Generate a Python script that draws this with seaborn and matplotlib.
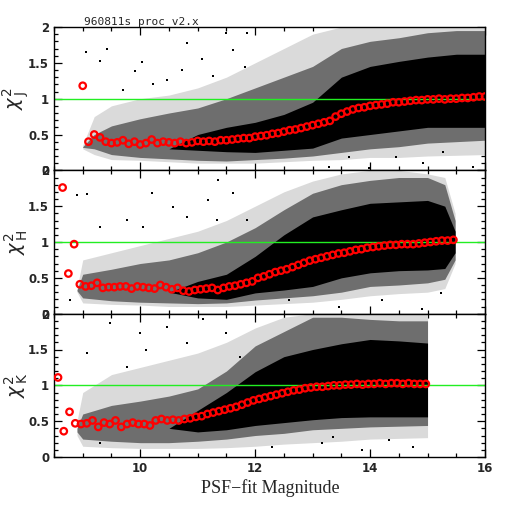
import numpy as np
import pandas as pd
import matplotlib
matplotlib.use("Agg")
import matplotlib.pyplot as plt
from matplotlib.ticker import MultipleLocator, FuncFormatter
import seaborn as sns

sns.set_style("white")

# ---------------- binned chi^2 medians (red circles) ----------------
j_mag = [9.0, 9.1, 9.2, 9.3, 9.4, 9.5, 9.6, 9.7, 9.8, 9.9,
         10.0, 10.1, 10.2, 10.3, 10.4, 10.5, 10.6, 10.7, 10.8, 10.9,
         11.0, 11.1, 11.2, 11.3, 11.4, 11.5, 11.6, 11.7, 11.8, 11.9,
         12.0, 12.1, 12.2, 12.3, 12.4, 12.5, 12.6, 12.7, 12.8, 12.9,
         13.0, 13.1, 13.2, 13.3, 13.4, 13.5, 13.6, 13.7, 13.8, 13.9,
         14.0, 14.1, 14.2, 14.3, 14.4, 14.5, 14.6, 14.7, 14.8, 14.9,
         15.0, 15.1, 15.2, 15.3, 15.4, 15.5, 15.6, 15.7, 15.8, 15.9, 16.0]
j_chi = [1.18, 0.40, 0.50, 0.46, 0.40, 0.38, 0.39, 0.42, 0.37, 0.40,
         0.36, 0.38, 0.43, 0.38, 0.40, 0.39, 0.38, 0.40, 0.38, 0.39,
         0.41, 0.40, 0.41, 0.40, 0.42, 0.42, 0.43, 0.44, 0.45, 0.45,
         0.47, 0.48, 0.49, 0.51, 0.52, 0.54, 0.56, 0.57, 0.59, 0.61,
         0.63, 0.65, 0.67, 0.69, 0.75, 0.79, 0.82, 0.85, 0.87, 0.88,
         0.90, 0.91, 0.92, 0.93, 0.95, 0.95, 0.96, 0.97, 0.98, 0.98,
         0.99, 0.99, 1.00, 0.99, 1.00, 1.00, 1.01, 1.01, 1.02, 1.03, 1.03]

h_mag = [8.65, 8.75, 8.85, 8.95, 9.05, 9.15, 9.25, 9.35, 9.45, 9.55,
         9.65, 9.75, 9.85, 9.95, 10.05, 10.15, 10.25, 10.35, 10.45, 10.55,
         10.65, 10.75, 10.85, 10.95, 11.05, 11.15, 11.25, 11.35, 11.45, 11.55,
         11.65, 11.75, 11.85, 11.95, 12.05, 12.15, 12.25, 12.35, 12.45, 12.55,
         12.65, 12.75, 12.85, 12.95, 13.05, 13.15, 13.25, 13.35, 13.45, 13.55,
         13.65, 13.75, 13.85, 13.95, 14.05, 14.15, 14.25, 14.35, 14.45, 14.55,
         14.65, 14.75, 14.85, 14.95, 15.05, 15.15, 15.25, 15.35, 15.45]
h_chi = [1.76, 0.56, 0.97, 0.41, 0.38, 0.39, 0.43, 0.36, 0.37, 0.37,
         0.38, 0.38, 0.35, 0.38, 0.37, 0.36, 0.35, 0.40, 0.37, 0.34,
         0.36, 0.32, 0.31, 0.33, 0.34, 0.35, 0.36, 0.33, 0.36, 0.38,
         0.39, 0.41, 0.43, 0.45, 0.50, 0.52, 0.55, 0.58, 0.60, 0.62,
         0.65, 0.68, 0.71, 0.74, 0.76, 0.78, 0.80, 0.82, 0.84, 0.85,
         0.87, 0.89, 0.90, 0.92, 0.93, 0.94, 0.95, 0.96, 0.96, 0.97,
         0.97, 0.97, 0.98, 0.99, 1.00, 1.01, 1.02, 1.02, 1.03]

k_mag = [8.57, 8.67, 8.77, 8.87, 8.97, 9.07, 9.17, 9.27, 9.37, 9.47,
         9.57, 9.67, 9.77, 9.87, 9.97, 10.07, 10.17, 10.27, 10.37, 10.47,
         10.57, 10.67, 10.77, 10.87, 10.97, 11.07, 11.17, 11.27, 11.37, 11.47,
         11.57, 11.67, 11.77, 11.87, 11.97, 12.07, 12.17, 12.27, 12.37, 12.47,
         12.57, 12.67, 12.77, 12.87, 12.97, 13.07, 13.17, 13.27, 13.37, 13.47,
         13.57, 13.67, 13.77, 13.87, 13.97, 14.07, 14.17, 14.27, 14.37, 14.47,
         14.57, 14.67, 14.77, 14.87, 14.97]
k_chi = [1.11, 0.36, 0.63, 0.47, 0.46, 0.47, 0.51, 0.42, 0.48, 0.46,
         0.51, 0.42, 0.46, 0.48, 0.46, 0.46, 0.44, 0.51, 0.53, 0.51,
         0.52, 0.51, 0.53, 0.54, 0.56, 0.57, 0.60, 0.62, 0.64, 0.66,
         0.68, 0.70, 0.73, 0.76, 0.79, 0.81, 0.83, 0.85, 0.87, 0.89,
         0.91, 0.93, 0.94, 0.96, 0.97, 0.98, 0.98, 0.99, 1.00, 1.00,
         1.01, 1.01, 1.02, 1.01, 1.02, 1.02, 1.03, 1.02, 1.03, 1.03,
         1.02, 1.03, 1.02, 1.02, 1.02]

# ---------------- envelopes of the star cloud ----------------
j_grid = [9.0, 9.2, 9.5, 10.0, 10.5, 11.0, 11.5, 12.0, 12.5, 13.0, 13.5, 14.0, 14.5, 15.0, 15.5, 16.0]
j_out_lo = [0.30, 0.22, 0.15, 0.14, 0.12, 0.10, 0.10, 0.10, 0.12, 0.14, 0.15, 0.18, 0.18, 0.20, 0.21, 0.22]
j_out_hi = [0.35, 0.75, 0.90, 1.00, 1.05, 1.15, 1.30, 1.50, 1.70, 1.90, 2.00, 2.00, 2.00, 2.00, 2.00, 2.00]
j_mid_lo = [0.32, 0.30, 0.22, 0.18, 0.16, 0.14, 0.13, 0.15, 0.17, 0.20, 0.25, 0.30, 0.33, 0.38, 0.40, 0.42]
j_mid_hi = [0.33, 0.50, 0.62, 0.72, 0.80, 0.87, 1.00, 1.15, 1.30, 1.45, 1.70, 1.80, 1.85, 1.92, 1.95, 1.95]
j_core_lo = [0.3, 0.3, 0.3, 0.3, 0.30, 0.28, 0.26, 0.25, 0.28, 0.31, 0.45, 0.50, 0.55, 0.60, 0.60, 0.60]
j_core_hi = [0.3, 0.3, 0.3, 0.3, 0.30, 0.50, 0.60, 0.67, 0.78, 0.95, 1.30, 1.45, 1.52, 1.58, 1.62, 1.62]

h_grid = [8.9, 9.0, 9.5, 10.0, 10.5, 11.0, 11.5, 12.0, 12.5, 13.0, 13.5, 14.0, 14.5, 15.0, 15.3, 15.48]
h_out_lo = [0.30, 0.15, 0.13, 0.12, 0.10, 0.10, 0.10, 0.12, 0.14, 0.16, 0.20, 0.25, 0.28, 0.30, 0.35, 0.70]
h_out_hi = [0.35, 0.75, 0.85, 0.95, 1.05, 1.15, 1.30, 1.50, 1.70, 1.85, 1.95, 2.00, 2.00, 1.95, 1.90, 1.40]
h_mid_lo = [0.32, 0.22, 0.18, 0.16, 0.15, 0.14, 0.15, 0.19, 0.22, 0.25, 0.30, 0.38, 0.40, 0.43, 0.48, 0.75]
h_mid_hi = [0.33, 0.55, 0.62, 0.70, 0.75, 0.85, 1.00, 1.20, 1.45, 1.68, 1.80, 1.86, 1.90, 1.90, 1.80, 1.30]
h_core_lo = [0.3, 0.3, 0.3, 0.3, 0.30, 0.22, 0.20, 0.29, 0.33, 0.38, 0.50, 0.57, 0.60, 0.61, 0.63, 0.85]
h_core_hi = [0.3, 0.3, 0.3, 0.3, 0.30, 0.45, 0.55, 0.80, 1.10, 1.35, 1.45, 1.54, 1.56, 1.58, 1.50, 1.15]

k_grid = [8.9, 9.0, 9.5, 10.0, 10.5, 11.0, 11.5, 12.0, 12.5, 13.0, 13.5, 14.0, 14.5, 15.0]
k_out_lo = [0.30, 0.15, 0.13, 0.12, 0.12, 0.12, 0.13, 0.15, 0.18, 0.20, 0.22, 0.25, 0.26, 0.27]
k_out_hi = [0.50, 0.90, 1.15, 1.25, 1.35, 1.45, 1.60, 1.80, 1.95, 2.00, 2.00, 2.00, 2.00, 2.00]
k_mid_lo = [0.35, 0.25, 0.22, 0.20, 0.20, 0.22, 0.25, 0.30, 0.33, 0.38, 0.40, 0.42, 0.43, 0.44]
k_mid_hi = [0.40, 0.60, 0.72, 0.78, 0.85, 0.95, 1.20, 1.55, 1.75, 1.95, 1.95, 1.92, 1.90, 1.90]
k_core_lo = [0.4, 0.4, 0.4, 0.4, 0.40, 0.35, 0.38, 0.44, 0.48, 0.52, 0.55, 0.56, 0.56, 0.56]
k_core_hi = [0.4, 0.4, 0.4, 0.4, 0.40, 0.65, 0.90, 1.19, 1.40, 1.50, 1.58, 1.64, 1.62, 1.59]

# ---------------- isolated stars outside the dense cloud ----------------
j_out_mag = [9.06, 9.42, 9.30, 9.91, 10.03, 10.81, 11.07, 10.72, 10.46, 11.62, 11.85, 11.50,
             11.82, 11.27, 10.23, 9.70, 13.98, 14.45, 14.92, 15.27, 15.79, 13.63, 13.28]
j_out_chi = [1.65, 1.69, 1.52, 1.39, 1.51, 1.77, 1.56, 1.40, 1.26, 1.68, 1.91, 1.91,
             1.44, 1.31, 1.21, 1.12, 0.03, 0.19, 0.10, 0.26, 0.05, 0.19, 0.05]
h_out_mag = [8.90, 9.08, 9.30, 9.77, 10.20, 10.57, 10.81, 11.18, 11.36, 11.62, 11.85, 10.05,
             11.33, 8.78, 12.59, 13.46, 14.21, 14.90, 15.24]
h_out_chi = [1.65, 1.67, 1.21, 1.31, 1.69, 1.49, 1.35, 1.58, 1.86, 1.68, 1.31, 1.21,
             1.31, 0.19, 0.19, 0.10, 0.19, 0.06, 0.29]
k_out_mag = [9.07, 9.47, 10.00, 10.10, 9.77, 10.46, 10.81, 11.10, 11.50, 11.73, 9.30,
             12.30, 13.17, 13.86, 14.33, 14.74, 13.35]
k_out_chi = [1.45, 1.87, 1.73, 1.50, 1.26, 1.82, 1.59, 1.92, 1.73, 1.40, 0.20,
             0.14, 0.19, 0.10, 0.24, 0.14, 0.28]

panel_labels = [r"$\chi^2_{\,\mathrm{J}}$", r"$\chi^2_{\,\mathrm{H}}$", r"$\chi^2_{\,\mathrm{K}}$"]
x_ticks = [10, 12, 14, 16]
y_ticks = [0, 0.5, 1, 1.5, 2]
title_text = "960811s proc v2.x"
x_title = "PSF\u2212fit Magnitude"

panels = [
    (j_mag, j_chi, j_grid, j_out_lo, j_out_hi, j_mid_lo, j_mid_hi, j_core_lo, j_core_hi, j_out_mag, j_out_chi),
    (h_mag, h_chi, h_grid, h_out_lo, h_out_hi, h_mid_lo, h_mid_hi, h_core_lo, h_core_hi, h_out_mag, h_out_chi),
    (k_mag, k_chi, k_grid, k_out_lo, k_out_hi, k_mid_lo, k_mid_hi, k_core_lo, k_core_hi, k_out_mag, k_out_chi),
]

fig, axes = plt.subplots(3, 1, figsize=(5.12, 5.12), dpi=100, sharex=True)
fig.subplots_adjust(left=54/512, right=485/512, top=1-27/512, bottom=1-457/512, hspace=0)

for ax, (mag, chi, grid, olo, ohi, mlo, mhi, clo, chi_hi, omag, ochi), lab in zip(axes, panels, panel_labels):
    ax.fill_between(grid, olo, ohi, color="#dadada", lw=0, zorder=1)
    ax.fill_between(grid, mlo, mhi, color="#6e6e6e", lw=0, zorder=1.1)
    ax.fill_between(grid, clo, chi_hi, color="black", lw=0, zorder=1.2)
    sns.scatterplot(x=omag, y=ochi, ax=ax, marker="s", s=2, color="black",
                    linewidth=0, zorder=1.3, legend=False)
    ax.axhline(1.0, color="#22ee22", lw=1.0, zorder=2)
    df = pd.DataFrame({"mag": mag, "chi2": chi})
    sns.scatterplot(data=df, x="mag", y="chi2", ax=ax, marker="o", s=22,
                    color="red", linewidth=1.6, zorder=3, legend=False)
    coll = ax.collections[-1]
    coll.set_facecolor("none")
    coll.set_edgecolor("red")
    ax.set_xlim(8.5, 16)
    ax.set_ylim(0, 2)
    ax.set_yticks(y_ticks)
    ax.yaxis.set_major_formatter(FuncFormatter(lambda v, p: f"{v:g}"))
    ax.yaxis.set_minor_locator(MultipleLocator(0.1))
    ax.set_xticks(x_ticks)
    ax.xaxis.set_minor_locator(MultipleLocator(0.5))
    ax.tick_params(which="both", direction="in", top=True, right=True, bottom=True, left=True,
                   color="black", width=0.9)
    ax.tick_params(which="major", length=6, labelsize=8.5)
    ax.tick_params(which="minor", length=3)
    for s in ax.spines.values():
        s.set_color("black")
        s.set_linewidth(1.0)
    ax.set_xlabel("")
    ax.set_ylabel("")
    pos = ax.get_position()
    fig.text(16/512, (pos.y0 + pos.y1) / 2, lab, rotation=90, ha="center", va="center", fontsize=14)

for ax in axes:
    for lbl in ax.get_yticklabels() + ax.get_xticklabels():
        lbl.set_fontweight("bold")

axes[-1].set_xticklabels([str(t) for t in x_ticks])
for lbl in axes[-1].get_xticklabels():
    lbl.set_fontweight("bold")
fig.text(84/512, 1-25/512, title_text, family="DejaVu Sans Mono", fontsize=8, ha="left", va="baseline")
fig.text(270/512, 1-488/512, x_title, family="Liberation Serif", fontsize=13, ha="center", va="center")

fig.savefig("out.png", dpi=100, facecolor="white")
